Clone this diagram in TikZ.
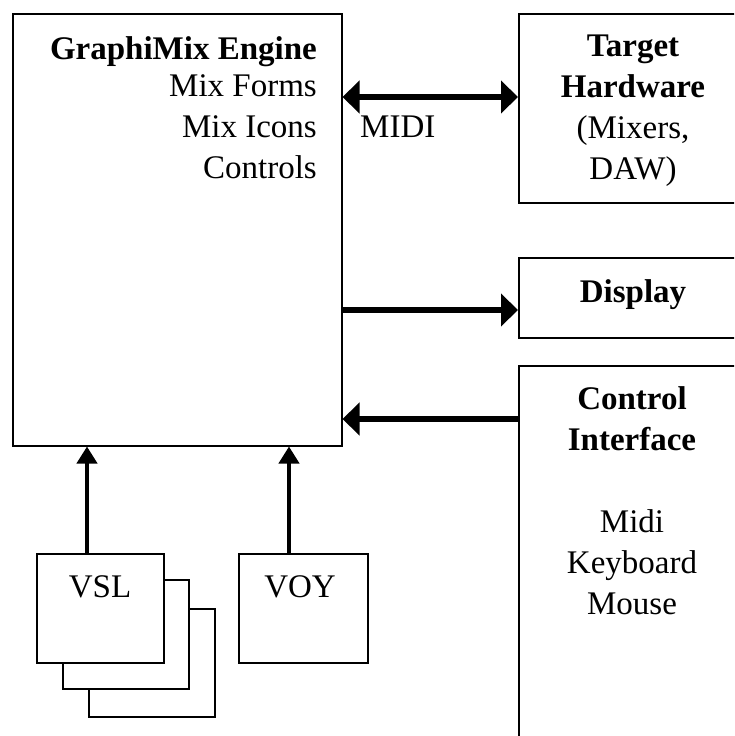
\documentclass[tikz,border=0pt]{standalone}
\usepackage{fontspec}
\setmainfont{Liberation Serif}
\usetikzlibrary{arrows.meta}
\begin{document}
\begin{tikzpicture}[x=1pt,y=-1pt,
  box/.style={draw, line width=1.5pt, anchor=north west, inner sep=0pt, fill=white},
  txt/.style={font=\fontsize{33}{41}\selectfont, inner sep=0pt},
  bigarr/.style={line width=6pt, -{Triangle[length=17pt,width=32pt]}},
  dblarr/.style={line width=6pt, {Triangle[length=17pt,width=32pt]}-{Triangle[length=17pt,width=32pt]}},
  smallarr/.style={line width=4pt, -{Triangle[length=17pt,width=20pt]}}
]
\useasboundingbox (0,0) rectangle (734,736);
\clip (0,0) rectangle (734,736);
\fill[white] (0,0) rectangle (734,736);

% boxes
\node[box, minimum width=329pt, minimum height=432pt] (engine) at (12,13) {};
\node[box, minimum width=240pt, minimum height=189pt] (target) at (518,13) {};
\node[box, minimum width=240pt, minimum height=80pt] (display) at (518,257) {};
\node[box, minimum width=240pt, minimum height=420pt] (control) at (518,365) {};
\node[box, minimum width=126pt, minimum height=108pt] (vslc) at (88,608) {};
\node[box, minimum width=126pt, minimum height=109pt] (vslb) at (62,579) {};
\node[box, minimum width=127pt, minimum height=109pt] (vsl) at (36,553) {};
\node[box, minimum width=129pt, minimum height=109pt] (voy) at (238,553) {};

% texts
\node[txt, align=right, anchor=north east] (enginetext) at (317,36)
  {\textbf{GraphiMix Engine}\\[-4pt]Mix Forms\\Mix Icons\\Controls};
\node[txt, align=center, anchor=north] (targettext) at (633,35)
  {\textbf{Target}\\\textbf{Hardware}\\(Mixers,\\DAW)};
\node[txt, anchor=base] (displaytext) at (633,302) {\textbf{Display}};
\node[txt, align=center, anchor=north] (controltext) at (632,386)
  {\textbf{Control}\\\textbf{Interface}\\[41pt]Midi\\Keyboard\\Mouse};
\node[txt, anchor=base] (vsltext) at (100,597) {VSL};
\node[txt, anchor=base] (voytext) at (300,597) {VOY};
\node[txt, anchor=base west] (midilabel) at (360,137) {MIDI};

% connectors
\draw[dblarr] (engine.east |- 0,97) -- (target.west |- 0,97);
\draw[bigarr] (engine.east |- 0,310) -- (display.west |- 0,310);
\draw[bigarr] (control.west |- 0,419) -- (engine.east |- 0,419);
\draw[smallarr] (vsl.north -| 87,0) -- (engine.south -| 87,0);
\draw[smallarr] (voy.north -| 289,0) -- (engine.south -| 289,0);
\end{tikzpicture}
\end{document}
